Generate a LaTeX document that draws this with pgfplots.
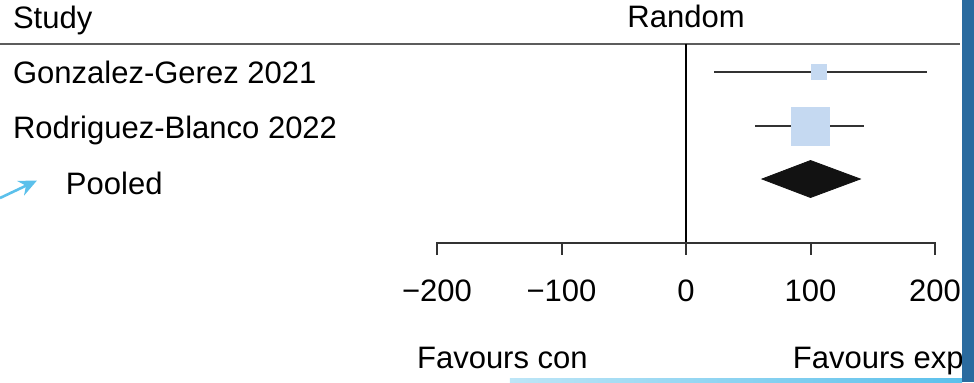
\documentclass[border=0pt]{standalone}
\usepackage{pgfplots}
\pgfplotsset{compat=1.18}
\usepackage{fontspec}
\setmainfont{Liberation Sans}
\usetikzlibrary{arrows.meta}
\definecolor{sq}{HTML}{C5D9F1}
\definecolor{ln}{HTML}{333333}
\definecolor{barblue}{HTML}{2A6B9F}
\definecolor{arrowblue}{HTML}{5BC0EB}
\newcommand{\mns}{\symbol{"2212}}
\tikzset{lbl/.style={inner sep=0pt, outer sep=0pt}}
\begin{document}
\begin{tikzpicture}
\begin{axis}[
  name=main,
  scale only axis, width=487pt, height=191pt,
  xmin=-551.0, xmax=231.3, ymin=0, ymax=382, y dir=reverse,
  axis lines=none, clip=false,
  font=\fontsize{15.5}{18}\selectfont,
]
% header
\node[lbl, anchor=base west] at (axis cs:-540.5,28) {Study};
\node[lbl, anchor=base] at (axis cs:0,27) {Random};
\draw[line width=1pt, color=ln!80] (axis cs:-551,43.5) -- (axis cs:220,43.5);
% zero line
\draw[line width=0.7pt, black] (axis cs:0,43.5) -- (axis cs:0,243);
% study labels
\node[lbl, anchor=base west] at (axis cs:-540.5,83) {Gonzalez-Gerez 2021};
\node[lbl, anchor=base west] at (axis cs:-540.5,138) {Rodriguez-Blanco 2022};
\node[lbl, anchor=base west] at (axis cs:-498,194) {Pooled};
% CI lines
\addplot[line width=1pt, color=ln] coordinates {(22.5,72) (193.6,72)};
\addplot[line width=1pt, color=ln] coordinates {(55.4,126) (143.0,126)};
% squares
\addplot[only marks, mark=square*, mark size=3.75pt, mark options={fill=sq, draw=sq}] coordinates {(106.8,72)};
\addplot[only marks, mark=square*, mark size=9.5pt, mark options={fill=sq, draw=sq}] coordinates {(99.6,126)};
% pooled diamond
\addplot[fill=black!93, draw=black!93] coordinates {(61,179) (100,160.5) (140,179) (100,197.5)} -- cycle;
% x axis
\draw[line width=1pt, color=ln] (axis cs:-200,255) -- (axis cs:-200,243) -- (axis cs:200,243) -- (axis cs:200,255);
\draw[line width=1pt, color=ln] (axis cs:-100,243) -- (axis cs:-100,255);
\draw[line width=1pt, color=ln] (axis cs:0,243) -- (axis cs:0,255);
\draw[line width=1pt, color=ln] (axis cs:100,243) -- (axis cs:100,255);
\node[lbl, anchor=base] at (axis cs:-200,301) {\mns200};
\node[lbl, anchor=base] at (axis cs:-100,301) {\mns100};
\node[lbl, anchor=base] at (axis cs:0,301) {0};
\node[lbl, anchor=base] at (axis cs:100,301) {100};
\node[lbl, anchor=base] at (axis cs:200,301) {200};
\node[lbl, anchor=base west] at (axis cs:-216,368) {Favours con};
\node[lbl, anchor=base west] at (axis cs:85.9,368) {Favours exp};
% decorations
\fill[left color=arrowblue!40, right color=arrowblue] (axis cs:-141.4,378) rectangle (axis cs:221.7,382);
\fill[barblue] (axis cs:221.7,0) rectangle (axis cs:231.3,382);
\draw[line width=1.3pt, color=arrowblue, -{Stealth[length=9pt,width=8pt]}] (axis cs:-551,198) -- (axis cs:-521.3,180.5);
\end{axis}
\pgfresetboundingbox
\path[use as bounding box] (main.south west) rectangle (main.north east);
\end{tikzpicture}
\end{document}
